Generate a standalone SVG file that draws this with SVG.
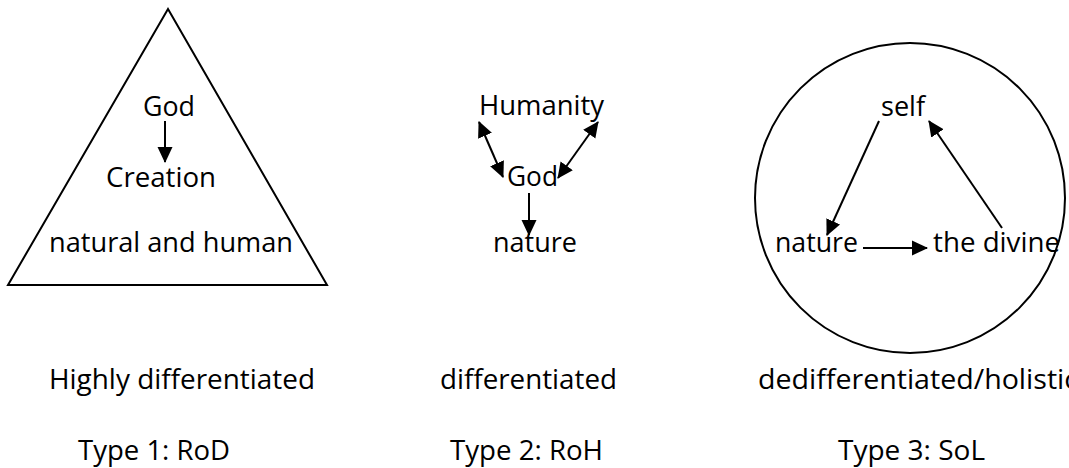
<svg xmlns="http://www.w3.org/2000/svg" width="1069" height="468" viewBox="0 0 1069 468">
<style>
text{font-family:"Open Sans","Noto Sans",sans-serif;font-size:28px;fill:#000}
.shape{fill:none;stroke:#000;stroke-width:2}
.conn{stroke:#000;stroke-width:2;fill:none}
</style>
<defs>
<marker id="ah" markerUnits="userSpaceOnUse" markerWidth="16" markerHeight="16" viewBox="0 0 16 16" refX="15" refY="8" orient="auto-start-reverse">
<path d="M0,0.5 L16,8 L0,15.5 Z" fill="#000"/>
</marker>
</defs>
<rect width="1069" height="468" fill="#fff"/>
<g id="triangle"><polygon class="shape" points="168,9 8,285 327,285"/></g>
<g id="circle"><circle class="shape" cx="910" cy="198" r="155"/></g>
<g id="t1-god"><text x="143" y="116" textLength="52" lengthAdjust="spacingAndGlyphs">God</text></g>
<g id="t1-creation"><text x="106" y="187" textLength="110" lengthAdjust="spacingAndGlyphs">Creation</text></g>
<g id="t1-nh"><text x="49" y="252" textLength="244" lengthAdjust="spacingAndGlyphs">natural and human</text></g>
<g id="t2-humanity"><text x="479" y="115" textLength="125" lengthAdjust="spacingAndGlyphs">Humanity</text></g>
<g id="t2-god"><text x="507" y="186" textLength="51" lengthAdjust="spacingAndGlyphs">God</text></g>
<g id="t2-nature"><text x="493" y="252" textLength="84" lengthAdjust="spacingAndGlyphs">nature</text></g>
<g id="t3-self"><text x="881" y="116" textLength="44" lengthAdjust="spacingAndGlyphs">self</text></g>
<g id="t3-nature"><text x="775" y="252" textLength="83" lengthAdjust="spacingAndGlyphs">nature</text></g>
<g id="t3-divine"><text x="933" y="252" textLength="127" lengthAdjust="spacingAndGlyphs">the divine</text></g>
<g id="labels">
<text x="49" y="389" textLength="266" lengthAdjust="spacingAndGlyphs">Highly differentiated</text>
<text x="440" y="389" textLength="177" lengthAdjust="spacingAndGlyphs">differentiated</text>
<text x="758" y="389" textLength="320" lengthAdjust="spacingAndGlyphs">dedifferentiated/holistic</text>
<text x="78" y="460" textLength="152" lengthAdjust="spacingAndGlyphs">Type 1: RoD</text>
<text x="450" y="460" textLength="153" lengthAdjust="spacingAndGlyphs">Type 2: RoH</text>
<text x="838" y="460" textLength="147" lengthAdjust="spacingAndGlyphs">Type 3: SoL</text>
</g>
<g id="connectors">
<line class="conn" x1="165" y1="121" x2="165" y2="162" marker-end="url(#ah)"/>
<line class="conn" x1="479" y1="122" x2="503" y2="177" marker-start="url(#ah)" marker-end="url(#ah)"/>
<line class="conn" x1="598" y1="122" x2="558" y2="178" marker-start="url(#ah)" marker-end="url(#ah)"/>
<line class="conn" x1="529" y1="193" x2="529" y2="235" marker-end="url(#ah)"/>
<line class="conn" x1="879" y1="121" x2="827" y2="235" marker-end="url(#ah)"/>
<line class="conn" x1="1002" y1="228" x2="929" y2="121" marker-end="url(#ah)"/>
<line class="conn" x1="863" y1="248" x2="927" y2="248" marker-end="url(#ah)"/>
</g>
</svg>
